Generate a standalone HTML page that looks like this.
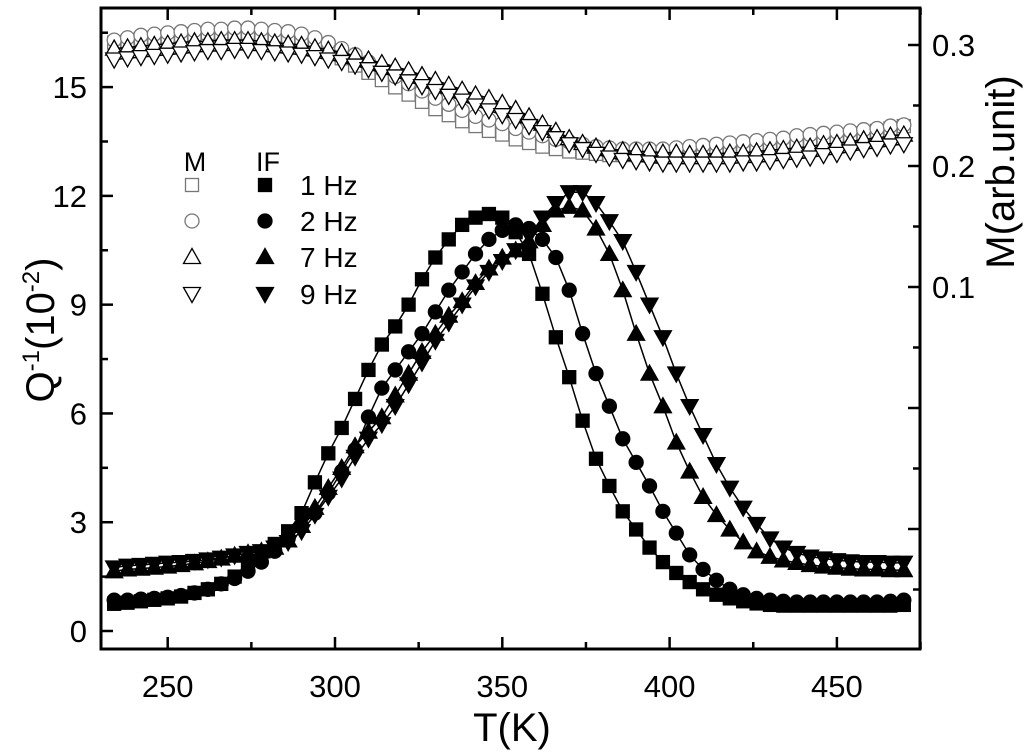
<!DOCTYPE html>
<html><head><meta charset="utf-8"><style>
html,body{margin:0;padding:0;background:#fff;}
svg{display:block;font-family:"Liberation Sans",Arial,sans-serif;}
</style></head><body>
<svg id="chart" width="1024" height="755" viewBox="0 0 1024 755"></svg>
<script>
const temps = [234,238,242,246,250,254,258,262,266,270,274,278,282,286,290,294,298,302,306,310,314,318,322,326,330,334,338,342,346,350,354,358,362,366,370,374,378,382,386,390,394,398,402,406,410,414,418,422,426,430,434,438,442,446,450,454,458,462,466,470];
const if1Hz = [.75,.78,.82,.86,.9,.95,1.05,1.15,1.3,1.5,1.8,2.1,2.4,2.75,3.25,4.1,4.9,5.6,6.4,7.2,7.9,8.4,9.0,9.7,10.3,10.8,11.2,11.4,11.5,11.4,11.0,10.4,9.3,8.1,7.0,5.8,4.75,4.0,3.3,2.8,2.3,1.9,1.6,1.35,1.15,1.0,.9,.82,.76,.72,.7,.7,.7,.7,.7,.7,.7,.7,.7,.72];
const if2Hz = [.85,.85,.88,.9,.93,.98,1.05,1.15,1.3,1.45,1.65,1.9,2.2,2.55,2.9,3.25,3.8,4.4,5.0,5.9,6.7,7.2,7.7,8.2,8.8,9.4,9.9,10.4,10.8,11.05,11.2,11.1,10.8,10.3,9.4,8.2,7.1,6.2,5.3,4.65,4.0,3.3,2.7,2.1,1.7,1.4,1.15,1.0,.9,.85,.82,.8,.8,.8,.8,.8,.8,.8,.82,.85];
const if7Hz = [1.65,1.7,1.72,1.75,1.78,1.82,1.87,1.93,2.0,2.08,2.15,2.2,2.3,2.5,2.9,3.4,3.95,4.5,5.1,5.5,5.9,6.5,7.1,7.7,8.2,8.7,9.1,9.6,10.0,10.3,10.5,10.75,11.2,11.6,11.7,11.6,11.1,10.4,9.4,8.2,7.1,6.2,5.2,4.4,3.7,3.2,2.8,2.45,2.2,2.05,1.95,1.88,1.82,1.78,1.75,1.72,1.7,1.7,1.68,1.68];
const if9Hz = [1.75,1.8,1.82,1.85,1.88,1.9,1.93,1.97,2.02,2.08,2.15,2.2,2.3,2.45,2.75,3.2,3.7,4.2,4.8,5.3,5.7,6.2,6.8,7.4,8.0,8.5,9.0,9.5,9.9,10.2,10.5,10.9,11.4,11.8,12.1,12.1,11.8,11.3,10.75,9.9,9.0,8.1,7.1,6.2,5.4,4.6,3.95,3.4,2.95,2.55,2.3,2.15,2.05,2.0,1.95,1.92,1.9,1.9,1.88,1.88];
const mSquare = [.302,.303,.305,.306,.307,.308,.309,.310,.310,.310,.310,.309,.308,.306,.303,.299,.294,.289,.283,.277,.271,.265,.259,.253,.247,.242,.237,.233,.229,.226,.222,.219,.216,.214,.212,.211,.210,.209,.209,.209,.209,.209,.209,.209,.210,.210,.211,.212,.213,.214,.215,.217,.219,.221,.223,.225,.227,.229,.231,.233];
const mCircle = [.304,.306,.308,.309,.310,.311,.312,.313,.313,.314,.314,.313,.312,.311,.309,.306,.302,.297,.292,.286,.280,.274,.268,.262,.256,.251,.246,.241,.238,.235,.231,.228,.225,.222,.220,.218,.216,.215,.214,.214,.214,.214,.215,.216,.217,.218,.219,.220,.221,.222,.223,.225,.226,.227,.228,.229,.230,.231,.233,.234];
const mUp = [.297,.298,.299,.300,.301,.302,.303,.303,.304,.304,.304,.303,.302,.301,.300,.298,.296,.294,.291,.288,.285,.282,.279,.275,.271,.267,.263,.259,.256,.252,.247,.241,.235,.229,.223,.219,.216,.214,.213,.212,.212,.211,.211,.210,.210,.210,.211,.211,.212,.213,.214,.215,.216,.218,.219,.220,.222,.223,.225,.226];
const mDown = [.288,.289,.290,.291,.292,.293,.294,.295,.295,.296,.296,.295,.294,.293,.292,.290,.288,.286,.283,.280,.277,.274,.270,.266,.262,.258,.254,.250,.246,.242,.238,.233,.228,.223,.218,.214,.210,.207,.205,.204,.203,.202,.202,.202,.202,.202,.202,.203,.203,.204,.205,.206,.207,.209,.210,.212,.214,.215,.217,.218];
const xTickLabels = [250,300,350,400,450];
const yTickLabels = [0,3,6,9,12,15];
const y2TickLabels = [0.1,0.2,0.3];

const NS='http://www.w3.org/2000/svg';
const svg=document.getElementById('chart');
const L=101,R=920,T=8,B=649;
const xs=t=>167.7+(t-250)*3.346;
const ys=q=>631-q*36.26;
const ys2=m=>45+(0.3-m)*1210;
function mk(tag,attrs,parent){const e=document.createElementNS(NS,tag);for(const k in attrs)e.setAttribute(k,attrs[k]);(parent||svg).appendChild(e);return e;}

function marker(g,type,x,y,fill,stroke){
  let e;const s=7;
  if(type==='sq'){e=mk('rect',{x:x-s+0.5,y:y-s+0.5,width:2*s-1,height:2*s-1,fill,stroke,'stroke-width':1.3},g);}
  else if(type==='ci'){e=mk('circle',{cx:x,cy:y,r:s,fill,stroke,'stroke-width':1.3},g);}
  else if(type==='up'){e=mk('polygon',{points:`${x},${y-s-1.5} ${x-s-1.5},${y+s-0.5} ${x+s+1.5},${y+s-0.5}`,fill,stroke,'stroke-width':1.3},g);}
  else {e=mk('polygon',{points:`${x},${y+s+1.5} ${x-s-1.5},${y-s+0.5} ${x+s+1.5},${y-s+0.5}`,fill,stroke,'stroke-width':1.3},g);}
  return e;
}
function series(name,vals,scale,type,fill,stroke,line){
  const g=mk('g',{});
  
  
  const pts=temps.map((t,i)=>[xs(t),scale(vals[i])]);
  if(line){const p=mk('polyline',{points:pts.map(p=>p.join(',')).join(' '),fill:'none',stroke:'#000','stroke-width':1.5},g);
    
    }
  pts.forEach(p=>{const m=marker(g,type,p[0],p[1],fill,stroke);
    
    });
}
series('m-square',mSquare,ys2,'sq','#fff','#777',false);
series('m-circle',mCircle,ys2,'ci','#fff','#777',false);
series('m-up-triangle',mUp,ys2,'up','#fff','#000',true);
series('m-down-triangle',mDown,ys2,'dn','#fff','#000',true);
series('if-1hz',if1Hz,ys,'sq','#000','#000',true);
series('if-2hz',if2Hz,ys,'ci','#000','#000',true);
series('if-7hz',if7Hz,ys,'up','#000','#000',true);
series('if-9hz',if9Hz,ys,'dn','#000','#000',true);

const fr=mk('rect',{x:L,y:T,width:R-L,height:B-T,fill:'none',stroke:'#000','stroke-width':3});


for(let t=250;t<=475;t+=25){const major=t%50===0;const x=xs(t);const len=major?12:7;
  mk('line',{x1:x,y1:B,x2:x,y2:B-len,stroke:'#000','stroke-width':2.5});
  mk('line',{x1:x,y1:T,x2:x,y2:T+len,stroke:'#000','stroke-width':2.5});}
xTickLabels.forEach(v=>{const e=mk('text',{x:xs(v),y:697,'font-size':31,'text-anchor':'middle'});e.textContent=v;
  
  });
for(let q=0;q<=16.5;q+=1.5){const major=Math.abs(q%3)<1e-6;const y=ys(q);
  mk('line',{x1:L,y1:y,x2:L+(major?12:7),y2:y,stroke:'#000','stroke-width':2.5});}
yTickLabels.forEach(v=>{const e=mk('text',{x:87,y:ys(v)+11,'font-size':31,'text-anchor':'end'});e.textContent=v;
  
  });
for(let k=0;k<=10;k++){const m=0.3-k*0.05;const y=ys2(m);if(y>B-2)break;const major=k%2===0;
  mk('line',{x1:R,y1:y,x2:R-(major?12:7),y2:y,stroke:'#000','stroke-width':2.5});}
y2TickLabels.forEach(v=>{const e=mk('text',{x:932,y:ys2(v)+11,'font-size':31});e.textContent=v.toFixed(1);
  
  });
let e=mk('text',{x:512,y:741,'font-size':40,'text-anchor':'middle'});e.textContent='T(K)';


e=mk('text',{transform:'translate(54,330) rotate(-90)','font-size':40,'text-anchor':'middle'});
e.innerHTML='Q<tspan dy="-15" font-size="24">-1</tspan><tspan dy="15">(10</tspan><tspan dy="-15" font-size="24">-2</tspan><tspan dy="15">)</tspan>';


e=mk('text',{transform:'translate(1014,172) rotate(-90)','font-size':40,'text-anchor':'middle'});e.textContent='M(arb.unit)';


const lg=mk('g',{});


e=mk('text',{x:195,y:171,'font-size':27,'text-anchor':'middle'},lg);e.textContent='M';
e=mk('text',{x:268,y:171,'font-size':27,'text-anchor':'middle'},lg);e.textContent='IF';
const types=['sq','ci','up','dn'],labs=['1 Hz','2 Hz','7 Hz','9 Hz'],rows=[185,221,257,294];
types.forEach((t,i)=>{const it=mk('g',{},lg);
  
  
  marker(it,t,192,rows[i],'#fff',i<2?'#777':'#000');
  marker(it,t,265,rows[i],'#000','#000');
  const tx=mk('text',{x:300,y:rows[i]+10,'font-size':28},it);tx.textContent=labs[i];});
</script>
</body></html>
